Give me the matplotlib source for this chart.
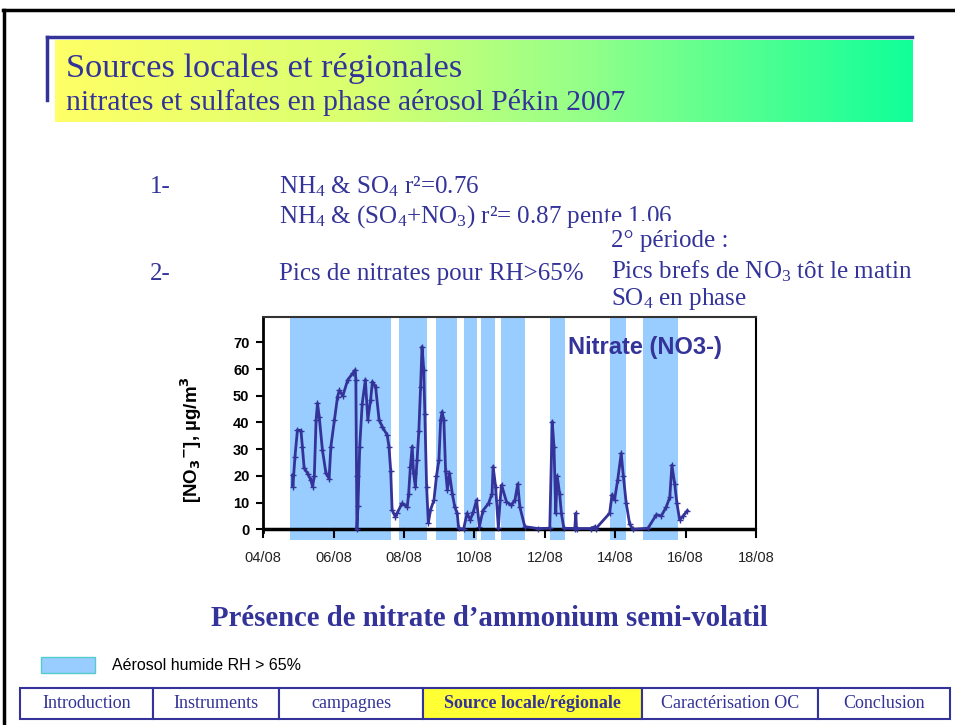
import numpy as np
import matplotlib
matplotlib.use("Agg")
import matplotlib.pyplot as plt
from matplotlib.patches import Rectangle
from matplotlib.lines import Line2D
from matplotlib.colors import LinearSegmentedColormap

plt.rcParams['mathtext.fontset'] = 'custom'
plt.rcParams['mathtext.rm'] = 'Liberation Serif'
plt.rcParams['mathtext.it'] = 'Liberation Serif:italic'
plt.rcParams['mathtext.bf'] = 'Liberation Serif:bold'
SERIF = ['Liberation Serif', 'DejaVu Serif']
SANS = ['Liberation Sans', 'DejaVu Sans']
NAVY = '#333399'

# ---------------- data ---------------- #
# time in days of August 2007, nitrate in ug/m3
t_days = [4.83, 4.84, 4.90, 4.97, 5.07, 5.11, 5.16, 5.26, 5.35, 5.40, 5.45, 5.50,
          5.54, 5.59, 5.68, 5.78, 5.87, 5.92, 6.02, 6.11, 6.16, 6.26, 6.40, 6.54,
          6.61, 6.63, 6.65, 6.66, 6.69, 6.74, 6.81, 6.90, 6.97, 7.05, 7.10, 7.19,
          7.29, 7.38, 7.52, 7.57, 7.62, 7.66, 7.75, 7.80, 7.94, 8.09, 8.13, 8.18,
          8.23, 8.27, 8.32, 8.37, 8.42, 8.47, 8.51, 8.56, 8.59, 8.64, 8.69, 8.75,
          8.85, 8.92, 8.99, 9.04, 9.08, 9.13, 9.18, 9.23, 9.29, 9.37, 9.44, 9.51,
          9.55, 9.69, 9.79, 9.88, 9.97, 10.06, 10.14, 10.24, 10.40, 10.50, 10.53,
          10.60, 10.68, 10.73, 10.77, 10.91, 11.05, 11.15, 11.23, 11.29, 11.43,
          11.8, 12.14, 12.21, 12.26, 12.31, 12.35, 12.42, 12.47, 12.54, 12.85,
          12.88, 12.90, 13.3, 13.42, 13.45, 13.84, 13.91, 13.98, 14.07, 14.17,
          14.23, 14.31, 14.41, 14.50, 14.93, 15.17, 15.31, 15.45, 15.55, 15.61,
          15.69, 15.75, 15.83, 15.93, 16.05]
nitrate = [20.3, 16.0, 27.2, 37.2, 37.0, 31.0, 23.0, 20.9, 18.5, 16.0, 20.0, 41.0,
           47.2, 42.0, 29.7, 21.0, 19.0, 31.0, 41.0, 49.7, 52.0, 50.0, 56.0, 58.4,
           59.7, 56.0, 20.0, 0.0, 8.6, 31.0, 47.0, 56.0, 41.0, 48.6, 55.3, 53.4,
           41.0, 38.4, 35.3, 31.0, 22.0, 7.2, 4.7, 6.0, 9.7, 8.4, 13.4, 23.5,
           31.0, 21.0, 16.0, 26.0, 37.0, 53.4, 68.4, 59.7, 43.0, 16.0, 2.4, 7.2,
           11.0, 19.8, 26.0, 41.0, 44.0, 41.0, 22.0, 14.7, 21.0, 13.4, 8.4, 6.0,
           0.4, 0.0, 6.0, 3.5, 6.6, 11.0, 1.0, 7.0, 9.7, 13.4, 23.5,
           16.0, 0.4, 11.0, 16.6, 10.3, 9.0, 11.0, 17.0, 8.4, 1.0,
           0.3, 0.4, 40.3, 31.0, 6.0, 20.0, 13.4, 6.0, 0.4, 0.3,
           6.0, 0.3, 0.3, 1.0, 0.3, 6.0, 13.0, 11.0, 18.5, 28.4,
           20.0, 10.0, 2.0, 0.0, 0.4, 5.5, 5.0, 8.4, 12.0, 24.0,
           17.0, 10.0, 3.5, 5.0, 7.0]

# humid aerosol periods (RH > 65%)
band_start = [4.76, 7.86, 8.91, 9.70, 10.18, 10.75, 12.14, 13.84, 14.80]
band_end = [7.63, 8.66, 9.51, 10.08, 10.58, 11.43, 12.57, 14.32, 15.79]

x_ticks = [4, 6, 8, 10, 12, 14, 16, 18]
x_labels = ['04/08', '06/08', '08/08', '10/08', '12/08', '14/08', '16/08', '18/08']
y_ticks = [0, 10, 20, 30, 40, 50, 60, 70]

nav_items = ['Introduction', 'Instruments', 'campagnes', 'Source locale/régionale',
             'Caractérisation OC', 'Conclusion']
nav_edges = [20, 153, 279, 423, 642, 818, 950]
nav_active = 3

W, H = 955, 725
fig = plt.figure(figsize=(W / 100, H / 100), dpi=100)
renderer = fig.canvas.get_renderer()


def fx(px):
    return px / W


def fy(py):
    return 1 - py / H


def ftext(px, py, s, width=None, **kw):
    # place text in pixel coords; optionally scale font so it spans `width` px
    t = fig.text(fx(px), fy(py), s, **kw)
    if width:
        w = t.get_window_extent(renderer).width
        t.set_fontsize(t.get_fontsize() * width / w)
    return t


# slide border
fig.add_artist(Line2D([fx(3), fx(955)], [fy(10), fy(10)], color='black', lw=2.5))
fig.add_artist(Line2D([fx(4), fx(4)], [fy(10), fy(725)], color='black', lw=2.5))

# title banner with gradient
cmap = LinearSegmentedColormap.from_list('ban', [(0.0, '#ffff66'), (0.35, '#d9ff70'),
                                                  (0.6, '#99ff88'), (1.0, '#11ff99')])
ax_b = fig.add_axes([fx(55), fy(122), fx(912 - 55), (122 - 40) / H])
ax_b.imshow(np.linspace(0, 1, 256)[None, :], aspect='auto', cmap=cmap)
ax_b.axis('off')
fig.add_artist(Line2D([fx(47), fx(912)], [fy(37), fy(37)], color=NAVY, lw=2.5))
fig.add_artist(Line2D([fx(47), fx(47)], [fy(37), fy(100)], color=NAVY, lw=2.5))
ftext(66, 68, 'Sources locales et régionales', width=395, family=SERIF,
      fontsize=22, color=NAVY, va='center')
ftext(66, 102, 'nitrates et sulfates en phase aérosol Pékin 2007', width=560,
      family=SERIF, fontsize=17.5, color=NAVY, va='center')

# bullet text
tk = dict(family=SERIF, fontsize=18, color=NAVY, va='center')
ftext(150, 187, '1-', **tk)
ftext(279, 187, r'NH$_4$ & SO$_4$ r²=0.76', **tk)
ftext(279, 217, r'NH$_4$ & (SO$_4$+NO$_3$) r²= 0.87 pente 1.06', **tk)
ftext(150, 274, '2-', **tk)
ftext(279, 274, 'Pics de nitrates pour RH>65%', **tk)
fig.add_artist(Rectangle((fx(607), fy(312)), fx(950 - 607), (312 - 221) / H,
                         transform=fig.transFigure, facecolor='white',
                         edgecolor='none', zorder=5))
tk2 = dict(tk, zorder=6)
ftext(611, 241, '2° période :', **tk2)
ftext(611, 271, r'Pics brefs de NO$_3$ tôt le matin', **tk2)
ftext(611, 299, r'SO$_4$ en phase', **tk2)

# ---------------- chart ---------------- #
ax = fig.add_axes([fx(263.3), fy(540), fx(756 - 263.3), (540 - 317) / H])
ax.set_xlim(4, 18)
ax.set_ylim(-4.0, 79.5)
for s, e in zip(band_start, band_end):
    ax.axvspan(s, e, color='#99ccff', lw=0, zorder=1)
ax.axhline(0, color='black', lw=2.5, zorder=2)
ax.plot(t_days, nitrate, color=NAVY, lw=2, marker='+', ms=4, mew=1, zorder=3)

ax.spines['bottom'].set_visible(False)
ax.spines['left'].set_linewidth(2)
ax.spines['left'].set_bounds(-1, 79.5)
ax.spines['top'].set_color('#333333')
ax.spines['top'].set_linewidth(1.5)
ax.spines['right'].set_linewidth(1.5)
ax.spines['right'].set_bounds(0, 79.5)

ax.set_yticks(y_ticks)
ax.set_yticklabels([str(v) for v in y_ticks], family=SANS, fontweight='bold', fontsize=10.5)
ax.tick_params(axis='y', direction='out', length=5, width=1.5, pad=5)
ax.set_xticks(x_ticks)
ax.set_xticklabels(x_labels, family=SANS, fontsize=10.5, color='#222222')
ax.tick_params(axis='x', direction='out', length=0, pad=8)
# x ticks hang down from the zero line
for xt in x_ticks:
    ax.plot([xt, xt], [0, -2.7], color='black', lw=1.5, zorder=2, clip_on=False)

ax.text(12.66, 68, 'Nitrate (NO3-)', family=SANS, fontweight='bold', fontsize=17,
        color=NAVY, va='center', ha='left', zorder=4)

ftext(191, 440, r'[NO$_\mathbf{3}$$^\mathbf{-}$], µg/m$^\mathbf{3}$', width=None,
      family=SANS, fontweight='bold', fontsize=13.5, rotation=90, ha='center',
      va='center', math_fontfamily='dejavusans')

ftext(489, 618, 'Présence de nitrate d’ammonium semi-volatil', width=560,
      family=SERIF, fontweight='bold', fontsize=17, color=NAVY, ha='center',
      va='center')

# legend
fig.add_artist(Rectangle((fx(41), fy(673)), fx(54), 16 / H, transform=fig.transFigure,
                         facecolor='#99ccff', edgecolor='#55cccc', lw=1))
ftext(112, 665, 'Aérosol humide RH > 65%', width=188, family=SANS, fontsize=11,
      color='black', va='center')

# navigation bar
for i, name in enumerate(nav_items):
    x0, x1 = nav_edges[i], nav_edges[i + 1]
    fc = '#ffff33' if i == nav_active else 'white'
    fig.add_artist(Rectangle((fx(x0), fy(719)), fx(x1 - x0), 31 / H,
                             transform=fig.transFigure, facecolor=fc,
                             edgecolor=NAVY, lw=1.5))
    ftext((x0 + x1) / 2, 704, name, family=SERIF, fontsize=13, color=NAVY,
          ha='center', va='center',
          fontweight='bold' if i == nav_active else 'normal')

fig.savefig('out.png', dpi=100)
